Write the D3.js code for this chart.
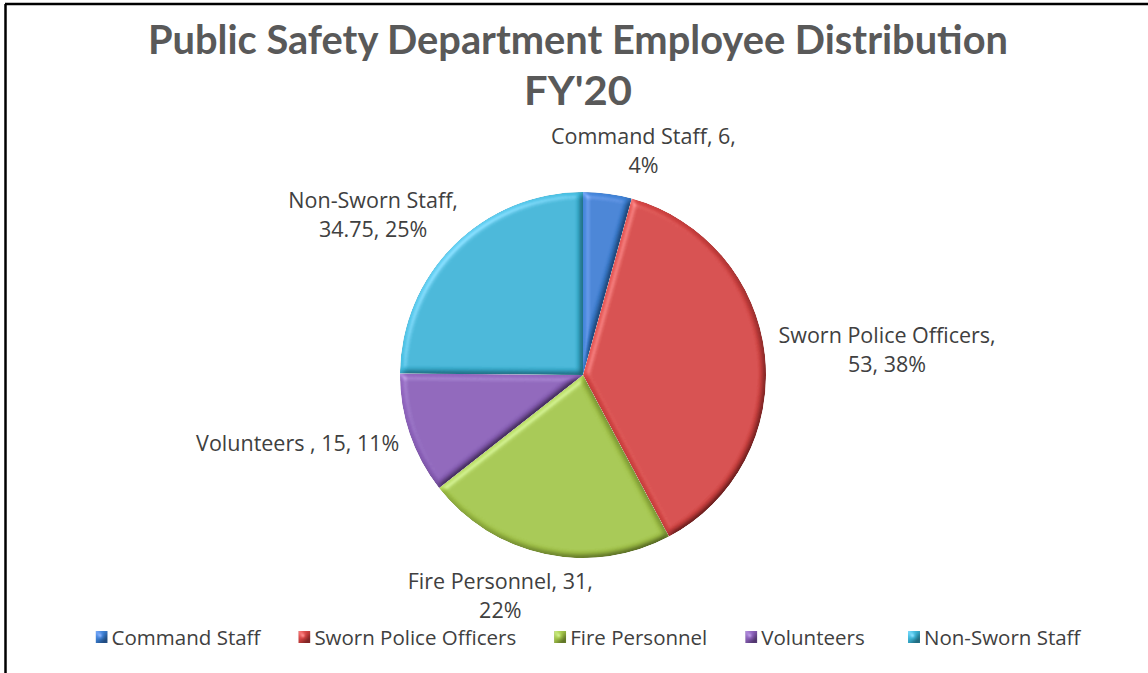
<!DOCTYPE html>
<html lang="en">
  <head>
    <meta charset="UTF-8" />
    <title>Public Safety Department Employee Distribution FY'20</title>
    <script src="https://cdnjs.cloudflare.com/ajax/libs/d3/7.8.5/d3.min.js"></script>
    <style>
      body {
        margin: 0;
        background: #fff;
      }
      svg {
        display: block;
      }
      .title {
        font-family: Lato, 'Open Sans', sans-serif;
        font-weight: 700;
        fill: #595959;
      }
      .label,
      .legend text {
        font-family: 'Open Sans', sans-serif;
        fill: #404040;
        white-space: pre;
      }
    </style>
  </head>
  <body>
    <svg width="1148" height="673"></svg>
    <script>
      // chart data
      const categories = ['Command Staff', 'Sworn Police Officers', 'Fire Personnel', 'Volunteers ', 'Non-Sworn Staff'];
      const values = [6, 53, 31, 15, 34.75];
      const colors = ['#3b7fd3', '#d44342', '#a3c548', '#8a5fb8', '#3bb4d6'];
      const titleLines = ['Public Safety Department Employee Distribution', "FY'20"];

      const svg = d3.select('svg'),
        width = +svg.attr('width'),
        height = +svg.attr('height');

      // chart frame (only top and left edges are inside the picture)
      svg.append('line').attr('x1', 5).attr('x2', width).attr('y1', 4).attr('y2', 4)
        .attr('stroke', '#000').attr('stroke-width', 2.5);
      svg.append('line').attr('x1', 5.5).attr('x2', 5.5).attr('y1', 4).attr('y2', height)
        .attr('stroke', '#000').attr('stroke-width', 2.5);

      // title
      const titleWidths = [860, 108];
      svg.selectAll('.title')
        .data(titleLines)
        .enter()
        .append('text')
        .attr('class', 'title')
        .attr('x', 578)
        .attr('y', (d, i) => 54 + i * 51)
        .attr('text-anchor', 'middle')
        .attr('font-size', 40)
        .attr('textLength', (d, i) => titleWidths[i])
        .attr('lengthAdjust', 'spacingAndGlyphs')
        .text(d => d);

      // bevel filter, roughly like the office 3-D look
      const defs = svg.append('defs');
      const f = defs.append('filter').attr('id', 'bevel').attr('x', '-10%').attr('y', '-10%')
        .attr('width', '120%').attr('height', '120%');
      f.append('feGaussianBlur').attr('in', 'SourceAlpha').attr('stdDeviation', 3).attr('result', 'blur');
      const spec = f.append('feSpecularLighting').attr('in', 'blur').attr('surfaceScale', 4)
        .attr('specularConstant', 0.6).attr('specularExponent', 18)
        .attr('lighting-color', '#ffffff').attr('result', 'spec');
      spec.append('feDistantLight').attr('azimuth', 225).attr('elevation', 40);
      f.append('feComposite').attr('in', 'spec').attr('in2', 'SourceAlpha')
        .attr('operator', 'in').attr('result', 'specIn');
      const diff = f.append('feDiffuseLighting').attr('in', 'blur').attr('surfaceScale', 4)
        .attr('diffuseConstant', 1).attr('lighting-color', '#ffffff').attr('result', 'diff');
      diff.append('feDistantLight').attr('azimuth', 225).attr('elevation', 55);
      f.append('feComposite').attr('in', 'SourceGraphic').attr('in2', 'diff')
        .attr('operator', 'arithmetic').attr('k1', 1.22).attr('k2', 0).attr('k3', 0).attr('k4', 0)
        .attr('result', 'lit');
      f.append('feComposite').attr('in', 'specIn').attr('in2', 'lit')
        .attr('operator', 'arithmetic').attr('k1', 0).attr('k2', 0.3).attr('k3', 1).attr('k4', 0)
        .attr('result', 'out');
      f.append('feComposite').attr('in', 'out').attr('in2', 'SourceAlpha').attr('operator', 'in');

      const cx = 583,
        cy = 375,
        r = 183;

      const data = categories.map((c, i) => ({ name: c, value: values[i], color: colors[i] }));
      const total = d3.sum(values);

      const pie = d3.pie().value(d => d.value).sort(null);
      const arc = d3.arc().innerRadius(0).outerRadius(r);
      const arcs = pie(data);

      const g = svg.append('g').attr('transform', `translate(${cx},${cy})`);

      g.selectAll('path.slice')
        .data(arcs)
        .enter()
        .append('path')
        .attr('class', 'slice')
        .attr('d', arc)
        .attr('fill', d => d.data.color)
        .attr('filter', 'url(#bevel)');

      // data labels: "name, value, pct", wrapped at the commas, placed outside the slice
      const fmtPct = d3.format('.0%');
      const labelSize = 21.5,
        lineH = 29,
        maxW = 212,
        gap = 14;

      function textWidth(parent, s) {
        const tmp = parent.append('tspan').text(s);
        const w = tmp.node().getComputedTextLength();
        tmp.remove();
        return w;
      }

      arcs.forEach(d => {
        const parts = [d.data.name, d.data.value, fmtPct(d.data.value / total)];
        const chunks = parts.map((p, i) => (i < parts.length - 1 ? p + ',' : '' + p));
        const t = g.append('text').attr('class', 'label').attr('font-size', labelSize)
          .attr('text-anchor', 'middle');
        const lines = [];
        let cur = '';
        chunks.forEach(w => {
          const test = cur ? cur + ' ' + w : w;
          if (textWidth(t, test) > maxW && cur) {
            lines.push(cur);
            cur = w;
          } else cur = test;
        });
        lines.push(cur);

        const w = d3.max(lines, l => textWidth(t, l));
        const h = lines.length * lineH;

        const a = (d.startAngle + d.endAngle) / 2;
        const s = Math.sin(a),
          c = Math.cos(a);
        const px = s * (r + gap),
          py = -c * (r + gap);
        const bx = px + Math.sign(s) * Math.sqrt(Math.abs(s)) * w / 2;
        const by = py - c * h / 2;

        t.selectAll('tspan')
          .data(lines)
          .enter()
          .append('tspan')
          .attr('x', bx)
          .attr('y', (l, i) => by - h / 2 + lineH * i + 22)
          .text(l => l);
      });

      // legend, items laid out one after another and centred
      const legend = svg.append('g').attr('class', 'legend');
      const item = legend.selectAll('g')
        .data(data)
        .enter()
        .append('g');
      item.append('rect')
        .attr('x', 0).attr('y', -6).attr('width', 12).attr('height', 12)
        .attr('fill', d => d.color)
        .attr('filter', 'url(#bevel)');
      item.append('text')
        .attr('x', 16)
        .attr('y', 7.5)
        .attr('font-size', 20.5)
        .text(d => d.name);

      const itemGap = 38;
      const widths = [];
      item.select('text').each(function () {
        widths.push(16 + this.getComputedTextLength());
      });
      const totalW = d3.sum(widths) + itemGap * (widths.length - 1);
      let x0 = 588 - totalW / 2;
      item.attr('transform', (d, i) => {
        const x = x0;
        x0 += widths[i] + itemGap;
        return `translate(${x},637)`;
      });
    </script>
  </body>
</html>
